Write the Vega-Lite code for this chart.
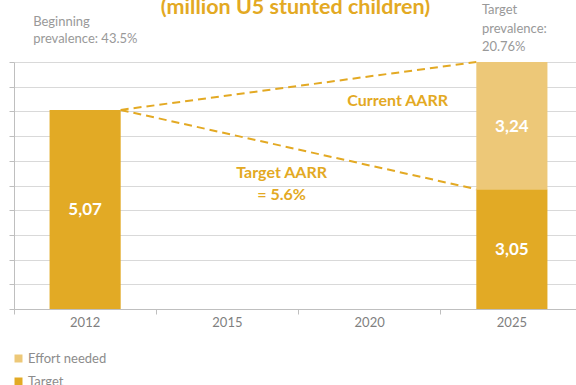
{
  "$schema": "https://vega.github.io/schema/vega-lite/v6.json",
  "width": 569,
  "height": 247,
  "autosize": {"type": "none"},
  "padding": {"left": 14, "top": 62, "right": 0, "bottom": 76},
  "background": "white",
  "title": {
    "text": "(million U5 stunted children)",
    "anchor": "middle",
    "frame": "group",
    "fontSize": 21.5,
    "font": "Lato",
    "fontWeight": "bold",
    "color": "#E3A923",
    "baseline": "alphabetic",
    "offset": -31,
    "dx": -3
  },
  "config": {"view": {"stroke": null}, "font": "Lato"},
  "datasets": {
    "bars": [
      {"year": "2012", "series": "Target", "value": 5.07, "label": "5,07"},
      {"year": "2025", "series": "Target", "value": 3.05, "label": "3,05"},
      {"year": "2025", "series": "Effort needed", "value": 3.24, "label": "3,24"}
    ],
    "lines": [
      {"from": "2012", "to": "2025", "start": 5.07, "end": 6.29},
      {"from": "2012", "to": "2025", "start": 5.07, "end": 3.05}
    ]
  },
  "layer": [
    {
      "data": {"name": "lines"},
      "mark": {"type": "rule", "color": "#E3A923", "strokeWidth": 2, "strokeDash": [8, 5]},
      "encoding": {
        "x": {"field": "from", "type": "nominal", "bandPosition": 1, "title": null},
        "x2": {"field": "to", "bandPosition": 0},
        "y": {"field": "start", "type": "quantitative", "title": null},
        "y2": {"field": "end"}
      }
    },
    {
      "data": {"name": "bars"},
      "mark": {"type": "bar"},
      "encoding": {
        "x": {
          "field": "year",
          "type": "nominal",
          "title": null,
          "scale": {"domain": ["2012", "2015", "2020", "2025"], "paddingInner": 0.5, "paddingOuter": 0.25},
          "axis": {
            "labelColor": "#7f7f7f",
            "labelFontSize": 13,
            "labelFont": "Lato",
            "labelAngle": 0,
            "labelAlign": "center",
            "bandPosition": -0.5,
            "tickSize": 5,
            "tickColor": "#bfbfbf",
            "domainColor": "#bfbfbf",
            "labelPadding": 8,
            "grid": false
          }
        },
        "y": {
          "field": "value",
          "type": "quantitative",
          "stack": "zero",
          "title": null,
          "scale": {"domain": [0, 6.29], "nice": false},
          "axis": {
            "labels": false,
            "values": [0, 0.629, 1.258, 1.887, 2.516, 3.145, 3.774, 4.403, 5.032, 5.661, 6.29],
            "tickCount": 20,
            "grid": true,
            "gridColor": "#d9d9d9",
            "tickColor": "#bfbfbf",
            "tickSize": 5,
            "domainColor": "#bfbfbf"
          }
        },
        "color": {
          "field": "series",
          "type": "nominal",
          "scale": {"domain": ["Effort needed", "Target"], "range": ["#EDC878", "#E2AA25"]},
          "legend": {
            "title": null,
            "orient": "none",
            "legendX": -2,
            "legendY": 290,
            "direction": "vertical",
            "symbolType": "square",
            "symbolSize": 64,
            "symbolStrokeWidth": 0,
            "labelFontSize": 13,
            "labelColor": "#8c8c8c",
            "labelFont": "Lato",
            "rowPadding": 9,
            "labelOffset": 3,
            "padding": 0
          }
        },
        "order": {"field": "series", "sort": "descending"}
      }
    },
    {
      "data": {"name": "bars"},
      "mark": {"type": "text", "color": "white", "fontSize": 17, "fontWeight": "bold", "font": "Lato", "baseline": "middle", "dy": 1},
      "encoding": {
        "x": {"field": "year", "type": "nominal", "title": null},
        "y": {"field": "value", "type": "quantitative", "stack": "zero", "bandPosition": 0.5, "title": null},
        "detail": {"field": "series"},
        "order": {"field": "series", "sort": "descending"},
        "text": {"field": "label"}
      }
    },
    {
      "data": {"values": [{"year": "2012", "y": 7.21, "text": ["Beginning", "prevalence: 43.5%"]}]},
      "mark": {"type": "text", "align": "left", "baseline": "alphabetic", "dx": -52, "fontSize": 13, "lineHeight": 17.5, "color": "#999999", "font": "Lato"},
      "encoding": {
        "x": {"field": "year", "type": "nominal", "title": null},
        "y": {"field": "y", "type": "quantitative", "title": null},
        "text": {"field": "text"}
      }
    },
    {
      "data": {"values": [{"year": "2025", "y": 7.5, "text": ["Target", "prevalence:", "20.76%"]}]},
      "mark": {"type": "text", "align": "left", "baseline": "alphabetic", "dx": -30, "fontSize": 13, "lineHeight": 18.5, "color": "#999999", "font": "Lato"},
      "encoding": {
        "x": {"field": "year", "type": "nominal", "title": null},
        "y": {"field": "y", "type": "quantitative", "title": null},
        "text": {"field": "text"}
      }
    },
    {
      "data": {"values": [{"year": "2020", "y": 5.17, "text": "Current AARR"}]},
      "mark": {"type": "text", "align": "center", "baseline": "alphabetic", "dx": 28, "fontSize": 16, "fontWeight": "bold", "color": "#E3A923", "font": "Lato"},
      "encoding": {
        "x": {"field": "year", "type": "nominal", "title": null},
        "y": {"field": "y", "type": "quantitative", "title": null},
        "text": {"field": "text"}
      }
    },
    {
      "data": {"values": [{"year": "2020", "y": 3.34, "text": ["Target AARR", "= 5.6%"]}]},
      "mark": {"type": "text", "align": "center", "baseline": "alphabetic", "dx": -88, "fontSize": 16, "lineHeight": 22, "fontWeight": "bold", "color": "#E3A923", "font": "Lato"},
      "encoding": {
        "x": {"field": "year", "type": "nominal", "title": null},
        "y": {"field": "y", "type": "quantitative", "title": null},
        "text": {"field": "text"}
      }
    }
  ]
}
